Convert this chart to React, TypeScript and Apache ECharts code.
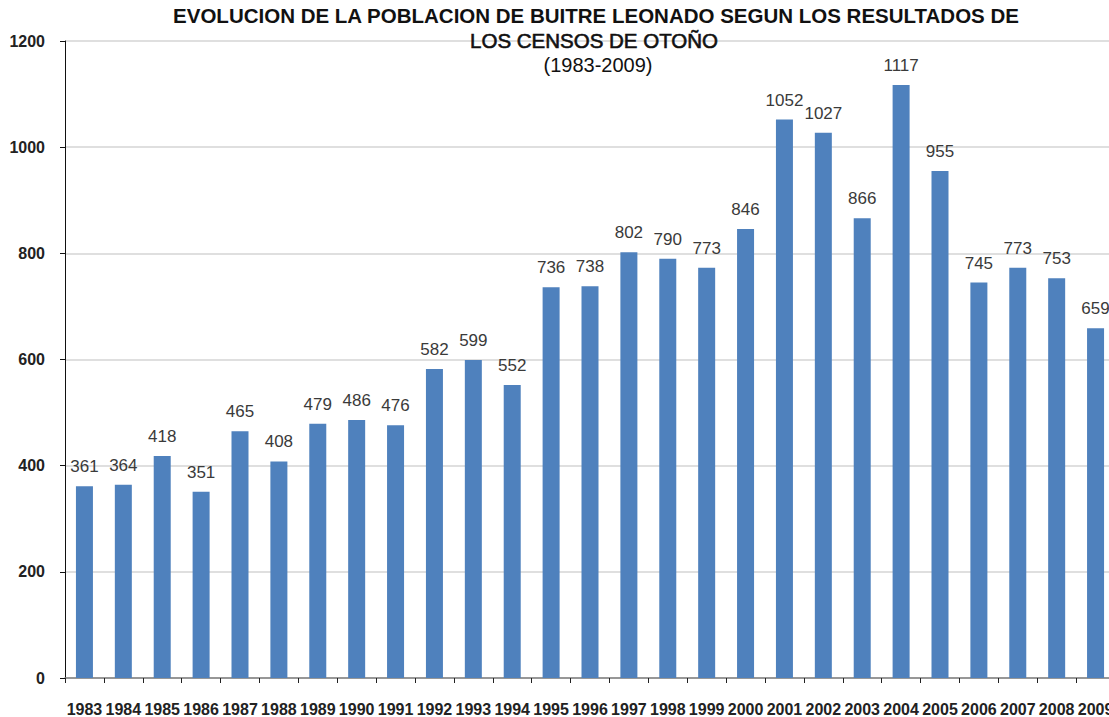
import React, { useEffect, useRef } from "react";
import * as echarts from "echarts";

const years = [
  "1983", "1984", "1985", "1986", "1987", "1988", "1989", "1990", "1991",
  "1992", "1993", "1994", "1995", "1996", "1997", "1998", "1999", "2000",
  "2001", "2002", "2003", "2004", "2005", "2006", "2007", "2008", "2009",
];
const population = [
  361, 364, 418, 351, 465, 408, 479, 486, 476,
  582, 599, 552, 736, 738, 802, 790, 773, 846,
  1052, 1027, 866, 1117, 955, 745, 773, 753, 659,
];
const titleLines = [
  "EVOLUCION DE LA POBLACION DE BUITRE LEONADO SEGUN LOS RESULTADOS DE",
  "LOS CENSOS DE OTOÑO",
  "(1983-2009)",
];
const yMin = 0;
const yMax = 1200;
const yStep = 200;

const FONT = "'Liberation Sans', Arial, Helvetica, sans-serif";

export default function App() {
  const ref = useRef<HTMLDivElement>(null);
  useEffect(() => {
    if (!ref.current) return;
    const chart = echarts.init(ref.current, null, { renderer: "svg" });
    chart.setOption({
      animation: false,
      backgroundColor: "#ffffff",
      title: [
        {
          text: titleLines[0],
          left: 596,
          top: 5,
          textAlign: "center",
          textStyle: { fontSize: 20.5, fontWeight: "bold", fontFamily: FONT, color: "#111" },
        },
        {
          text: titleLines[1],
          left: 594,
          top: 30,
          textAlign: "center",
          textStyle: {
            fontSize: 20.5,
            fontWeight: "normal",
            fontFamily: FONT,
            color: "#111",
            textBorderColor: "#111",
            textBorderWidth: 0.6,
          },
        },
        {
          text: titleLines[2],
          left: 598,
          top: 55,
          textAlign: "center",
          textStyle: { fontSize: 20, fontWeight: "normal", fontFamily: FONT, color: "#111" },
        },
      ].map((t) => ({ ...t, padding: 0 })),
      grid: { left: 65, right: 15, top: 41, bottom: 39, containLabel: false },
      xAxis: {
        type: "category",
        data: years,
        boundaryGap: true,
        axisLine: { show: true, lineStyle: { color: "#7f7f7f", width: 1.5 } },
        axisTick: { show: true, length: 5, lineStyle: { color: "#222" }, alignWithLabel: false },
        axisLabel: {
          margin: 23,
          fontSize: 16,
          fontWeight: "bold",
          fontFamily: FONT,
          color: "#222",
          interval: 0,
        },
        splitLine: { show: false },
      },
      yAxis: {
        type: "value",
        min: yMin,
        max: yMax,
        interval: yStep,
        axisLine: { show: true, lineStyle: { color: "#111", width: 1 } },
        axisTick: { show: true, length: 5, lineStyle: { color: "#111" } },
        axisLabel: {
          margin: 20,
          fontSize: 16,
          fontWeight: "bold",
          fontFamily: FONT,
          color: "#222",
          formatter: (v: number) => String(v),
        },
        splitLine: { show: true, lineStyle: { color: "#d4d4d4", width: 1.5 } },
      },
      series: [
        {
          type: "bar",
          data: population,
          barWidth: 17,
          itemStyle: { color: "#4f81bd" },
          label: {
            show: true,
            position: "top",
            distance: 11,
            fontSize: 17,
            fontFamily: FONT,
            color: "#3a3a3a",
          },
        },
      ],
    });
    return () => chart.dispose();
  }, []);
  return (
    <div
      style={{
        position: "fixed",
        left: 0,
        top: 0,
        width: 1109,
        height: 717,
        overflow: "hidden",
        background: "#fff",
      }}
    >
      <div ref={ref} style={{ width: 1130, height: 717 }} />
    </div>
  );
}
